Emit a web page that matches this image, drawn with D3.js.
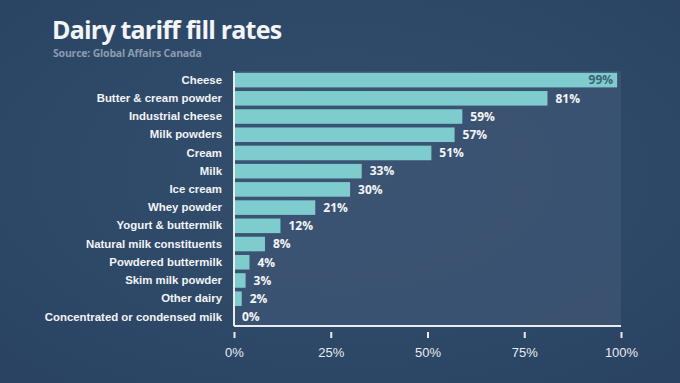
<!DOCTYPE html>
<html><head><meta charset="utf-8">
<script src="https://cdn.jsdelivr.net/npm/d3@7"></script>
<style>
html,body{margin:0;padding:0;background:#2e4866;}
svg{display:block;font-family:"Open Sans",sans-serif;}
</style></head>
<body><svg id="c" width="680" height="383"></svg>
<script>
const categories = ["Cheese","Butter & cream powder","Industrial cheese","Milk powders","Cream","Milk","Ice cream","Whey powder","Yogurt & buttermilk","Natural milk constituents","Powdered buttermilk","Skim milk powder","Other dairy","Concentrated or condensed milk"];
const values = [99,81,59,57,51,33,30,21,12,8,4,3,2,0];
const tickValues = [0,25,50,75,100];

const svg = d3.select("#c");
const W=680,H=383;
const m={left:234,right:59,top:71,bottom:57};
const iw=W-m.left-m.right, ih=H-m.top-m.bottom;

const defs=svg.append("defs");
const g1=defs.append("radialGradient").attr("id","bg").attr("cx","50%").attr("cy","45%").attr("r","70%");
g1.append("stop").attr("offset","0%").attr("stop-color","#34506f");
g1.append("stop").attr("offset","100%").attr("stop-color","#2a4362");
svg.append("rect").attr("width",W).attr("height",H).attr("fill","url(#bg)");

svg.append("text").attr("x",52).attr("y",38.5).attr("fill","#f2f4f6")
  .attr("font-size",25).attr("font-weight",700).attr("letter-spacing",-0.8).text("Dairy tariff fill rates");
svg.append("text").attr("x",53).attr("y",57).attr("fill","#8c9cb0")
  .attr("font-size",10.5).attr("font-weight",700).attr("letter-spacing",-0.2).text("Source: Global Affairs Canada");

const g=svg.append("g").attr("transform",`translate(${m.left},${m.top})`);
const x=d3.scaleLinear().domain([0,100]).range([0,iw]);
const y=d3.scaleBand().domain(categories).range([0,ih]).paddingInner(0.2).paddingOuter(0.1);

g.append("rect").attr("x",0).attr("y",0).attr("width",iw).attr("height",ih).attr("fill","#3f5674").attr("opacity",0.75);

g.selectAll(".bar").data(values).join("rect")
  .attr("x",1).attr("y",(d,i)=>y(categories[i]))
  .attr("width",d=>Math.max(0,x(d)-1)).attr("height",y.bandwidth())
  .attr("fill","#7ecccd");

g.selectAll(".val").data(values).join("text")
  .attr("x",d=>d>=90?x(d)-4:x(d)+8)
  .attr("y",(d,i)=>y(categories[i])+y.bandwidth()/2)
  .attr("dy","0.36em")
  .attr("text-anchor",d=>d>=90?"end":"start")
  .attr("fill",d=>d>=90?"#3a6275":"#f4f6f8")
  .attr("font-size",12).attr("font-weight",700)
  .text(d=>d+"%");

const yAxis=g.append("g").call(d3.axisLeft(y).tickSize(0).tickPadding(12));
yAxis.select(".domain").remove();
yAxis.selectAll("text").attr("fill","#f2f4f6").attr("font-size",11.4).attr("font-weight",600);

g.append("line").attr("x1",0).attr("x2",0).attr("y1",0).attr("y2",ih).attr("stroke","#e8ecf0").attr("stroke-width",2);
g.append("line").attr("x1",0).attr("x2",iw).attr("y1",ih).attr("y2",ih).attr("stroke","#e8ecf0").attr("stroke-width",2);

const xAxis=g.append("g").attr("transform",`translate(0,${ih+6})`)
  .call(d3.axisBottom(x).tickValues(tickValues).tickFormat(d=>d+"%").tickSize(6).tickPadding(10));
xAxis.select(".domain").remove();
xAxis.selectAll("line").attr("stroke","#e8ecf0").attr("stroke-width",2);
xAxis.selectAll("text").attr("fill","#e8ecf0").attr("font-size",13).attr("font-weight",400);
</script></body></html>
